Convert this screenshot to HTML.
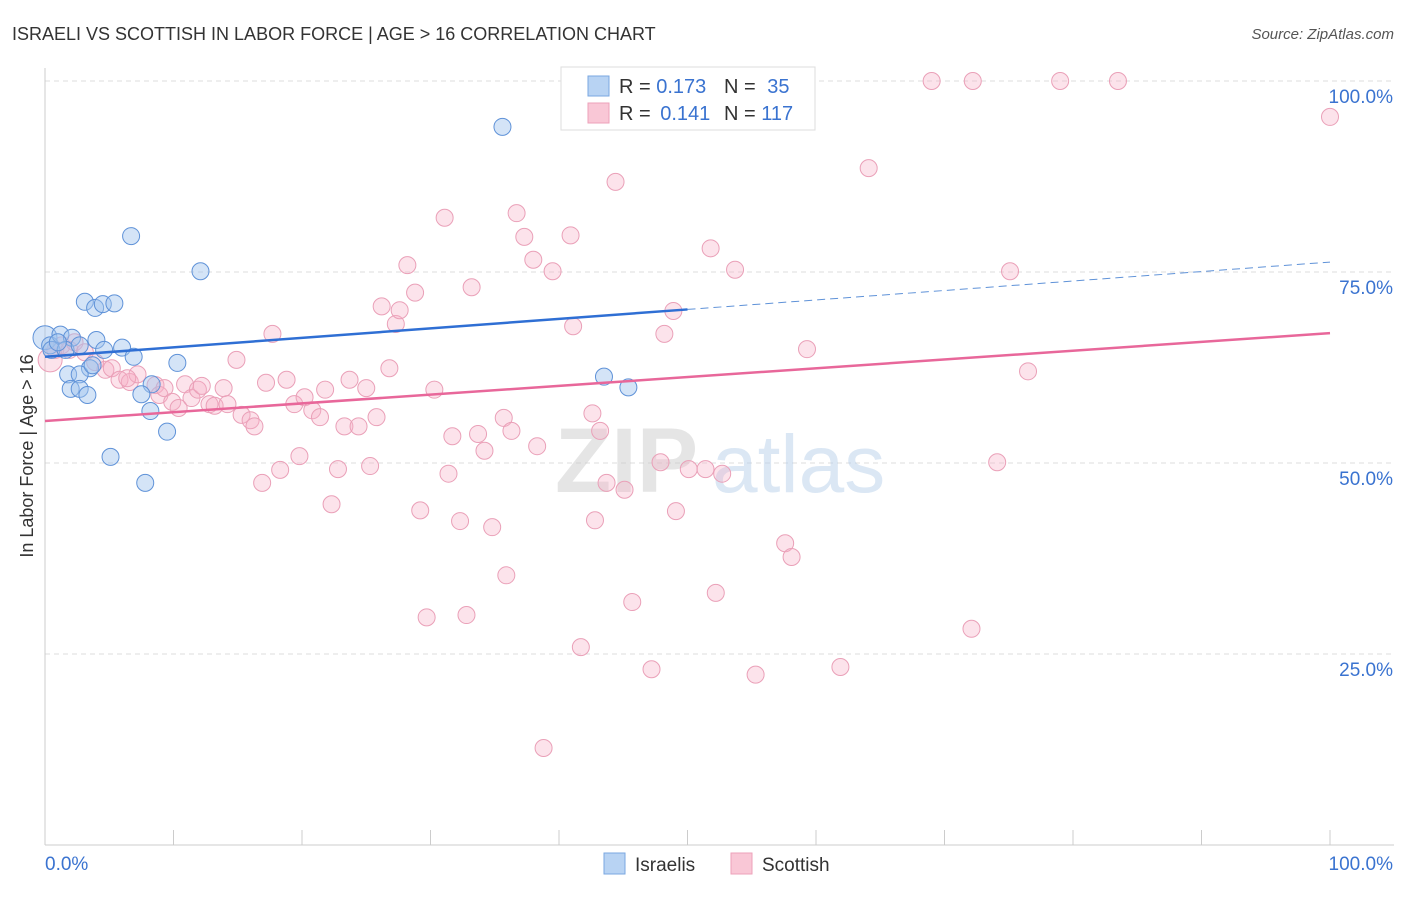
<!DOCTYPE html>
<html><head><meta charset="utf-8"><style>
body{margin:0;background:#fff;font-family:"Liberation Sans",sans-serif;}
svg text{font-family:"Liberation Sans",sans-serif;}
</style></head><body>
<svg id="chart" width="1406" height="892" xmlns="http://www.w3.org/2000/svg">
<text x="12" y="40" font-size="18" fill="#333">ISRAELI VS SCOTTISH IN LABOR FORCE | AGE &gt; 16 CORRELATION CHART</text>
<text x="1394" y="39" font-size="15" fill="#555" text-anchor="end" font-style="italic">Source: ZipAtlas.com</text>
<text transform="translate(33,456) rotate(-90)" font-size="18" fill="#333" text-anchor="middle">In Labor Force | Age &gt; 16</text>
<g id="grid"></g>
<g opacity="0.5">
<text x="555" y="492" font-size="92" fill="#ccc" font-family="Liberation Serif" font-weight="bold">ZIP</text>
<text x="712" y="492" font-size="82" fill="#b8d0ea">atlas</text>
</g>
<g id="points"></g>
<g id="trends"></g>
<g>
<rect x="561" y="67" width="254" height="63" fill="#fff" stroke="#ddd"/>
<rect x="588" y="76" width="21" height="20" fill="#b8d3f3" stroke="#7aa7e0"/>
<rect x="588" y="103" width="21" height="20" fill="#f9c7d6" stroke="#eda2ba"/>
<text x="619" y="93" font-size="20" fill="#333">R = <tspan fill="#3a73d0">0.173</tspan></text>
<text x="724" y="93" font-size="20" fill="#333">N = <tspan fill="#3a73d0" dx="6">35</tspan></text>
<text x="619" y="120" font-size="20" fill="#333">R = <tspan fill="#3a73d0" dx="4">0.141</tspan></text>
<text x="724" y="120" font-size="20" fill="#333">N = <tspan fill="#3a73d0">117</tspan></text>
</g>
<g>
<rect x="604" y="853" width="21" height="21" fill="#b8d3f3" stroke="#7aa7e0"/>
<text x="635" y="871" font-size="19" fill="#333">Israelis</text>
<rect x="731" y="853" width="21" height="21" fill="#f9c7d6" stroke="#eda2ba"/>
<text x="762" y="871" font-size="19" fill="#333">Scottish</text>
</g>
</svg>
<script>
const blueX=[0,0.4,1.2,2.1,0.5,1.6,2.7,4.0,3.1,3.9,4.5,5.4,6.7,12.1,35.6,6.0,4.6,6.9,10.3,3.5,1.8,2.7,2.0,2.7,3.3,8.3,7.5,8.2,9.5,5.1,7.8,43.5,45.4,3.7,1.0];
const blueY=[66.4,65.4,66.8,66.4,64.8,64.8,65.4,66.1,71.1,70.3,70.8,70.9,79.7,75.1,94.0,65.1,64.8,63.9,63.1,62.4,61.6,61.6,59.7,59.7,58.9,60.3,59.0,56.8,54.1,50.8,47.4,61.3,59.9,62.8,65.8];
const pinkX=[0.4,0.8,1.3,1.9,2.3,3.1,3.9,4.7,5.2,5.8,6.6,7.2,6.4,8.6,8.9,9.3,9.9,10.4,10.9,11.4,11.9,12.2,12.8,13.2,13.9,14.2,14.9,15.3,16.0,16.3,17.2,17.7,16.9,18.3,18.8,19.4,19.8,20.2,20.8,21.4,21.8,22.3,22.8,23.3,23.7,24.4,25.0,25.3,25.8,26.2,26.8,27.3,27.6,28.2,28.8,29.2,29.7,30.3,31.1,31.4,31.7,32.3,32.8,33.2,33.7,34.2,34.8,35.7,35.9,36.3,36.7,37.3,38.0,38.3,38.8,39.5,40.9,41.1,41.7,42.6,42.8,43.2,43.7,44.4,45.1,45.4,45.7,47.2,47.9,48.2,48.9,49.1,50.1,51.4,51.8,52.2,52.7,53.7,55.3,57.6,58.1,58.9,59.3,61.9,64.1,69.0,72.1,72.2,74.1,75.1,76.5,79.0,83.5,100];
const pinkY=[63.5,64.8,65.4,64.8,65.8,64.5,63.2,62.2,62.4,60.9,60.6,61.6,61.1,60.2,58.9,59.8,58.0,57.2,60.3,58.5,59.6,60.1,57.7,57.5,59.8,57.7,63.5,56.3,55.6,54.8,60.5,66.9,47.4,49.1,60.9,57.7,50.9,58.6,56.9,56.0,59.6,44.6,49.2,54.8,60.9,54.8,59.8,49.6,56.0,70.5,62.4,68.2,70.0,75.9,72.3,43.8,29.8,59.6,82.1,48.6,53.5,42.4,30.1,73.0,53.8,51.6,41.6,55.9,35.3,54.2,82.7,79.6,76.6,52.2,12.7,75.1,79.8,67.9,25.9,56.5,42.5,54.2,47.4,86.8,46.5,100,31.8,23.0,50.1,66.9,69.9,43.7,49.2,49.2,78.1,33.0,48.6,75.3,22.3,39.5,37.7,100,64.9,23.3,88.6,100,28.3,100,50.1,75.1,62.0,100,100,95.3];
const blueTrend=[63.9,76.3];
const pinkTrend=[55.5,67.0];
const yTicks=[100,75,50,25];
const yTickLabels=["100.0%","75.0%","50.0%","25.0%"];
const xTickLabels=["0.0%","100.0%"];
const NS="http://www.w3.org/2000/svg";
const X0=45,X1=1330,Y0=845,Y1=81;
const sx=v=>X0+(X1-X0)*v/100, sy=v=>Y0-(Y0-Y1)*v/100;
function mk(tag,attrs,parent){const e=document.createElementNS(NS,tag);for(const k in attrs)e.setAttribute(k,attrs[k]);parent.appendChild(e);return e;}
const grid=document.getElementById('grid');
yTicks.forEach((t,i)=>{
  const l=mk('line',{x1:X0,x2:1394,y1:sy(t),y2:sy(t),stroke:'#ddd','stroke-dasharray':'5,4'},grid);
  
  
  const tx=mk('text',{x:1393,y:sy(t)+22,'font-size':19,fill:'#3a73d0','text-anchor':'end'},grid);
  tx.textContent=yTickLabels[i];
  
  
});
const ax=mk('line',{x1:X0,x2:1394,y1:Y0,y2:Y0,stroke:'#ccc'},grid);


const ay=mk('line',{x1:X0,x2:X0,y1:68,y2:Y0,stroke:'#ccc'},grid);


for(let i=0;i<=10;i++){
  const t=mk('line',{x1:sx(i*10),x2:sx(i*10),y1:830,y2:Y0,stroke:'#ccc'},grid);
  
  
}
[[0,'start',45],[100,'end',1393]].forEach((d,i)=>{
  const tx=mk('text',{x:d[2],y:870,'font-size':19,fill:'#3a73d0','text-anchor':d[1]},grid);
  tx.textContent=xTickLabels[i];
  
  
});
const pts=document.getElementById('points');
pinkX.forEach((x,i)=>{
  const c=mk('circle',{cx:sx(x),cy:sy(pinkY[i]),r:(i==0?12:8.5),fill:'rgba(246,176,198,0.35)',stroke:'#eaa0b8','stroke-width':1},pts);
  
  
});
blueX.forEach((x,i)=>{
  const c=mk('circle',{cx:sx(x),cy:sy(blueY[i]),r:(i==0?12:8.5),fill:'rgba(160,195,238,0.45)',stroke:'#5f92d8','stroke-width':1},pts);
  
  
});
const tr=document.getElementById('trends');
const bAt=x=>blueTrend[0]+(blueTrend[1]-blueTrend[0])*x/100;
const b1=mk('line',{x1:sx(0),y1:sy(bAt(0)),x2:sx(50),y2:sy(bAt(50)),stroke:'#2f6fd4','stroke-width':2.5},tr);


const b2=mk('line',{x1:sx(50),y1:sy(bAt(50)),x2:sx(100),y2:sy(bAt(100)),stroke:'#5f92d8','stroke-width':1,'stroke-dasharray':'8,5'},tr);


const p1=mk('line',{x1:sx(0),y1:sy(pinkTrend[0]),x2:sx(100),y2:sy(pinkTrend[1]),stroke:'#e8679a','stroke-width':2.5},tr);


</script>
</body></html>
